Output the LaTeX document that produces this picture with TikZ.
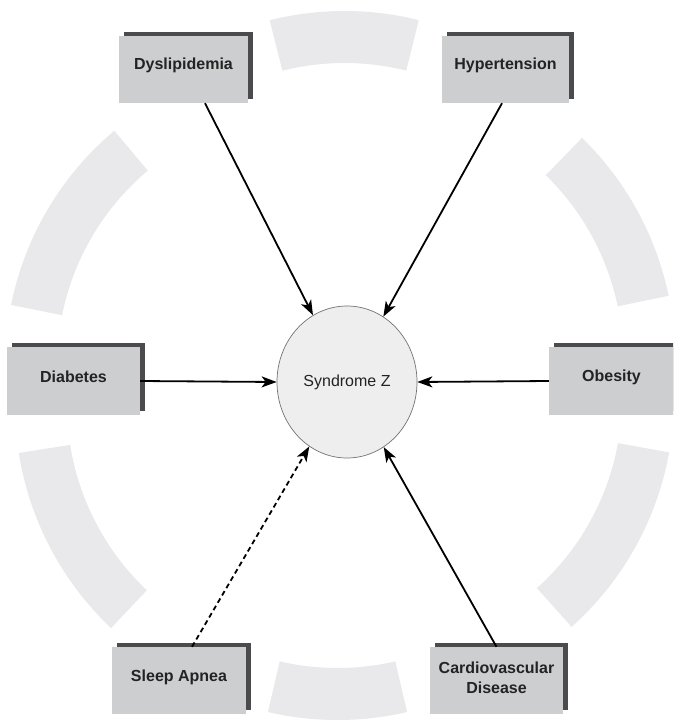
\documentclass[tikz,border=0pt]{standalone}
\usepackage{fontspec}
\setmainfont{Liberation Sans}
\usetikzlibrary{arrows.meta,shadows,shapes.geometric}
\definecolor{segc}{RGB}{233,233,235}
\definecolor{boxc}{RGB}{205,206,208}
\definecolor{shadc}{RGB}{75,75,77}
\definecolor{ellc}{RGB}{238,238,238}
\definecolor{txtc}{RGB}{35,35,35}
\newcommand{\ringseg}[4]{%
  \fill[segc] (#1,#2) ++(#3:307) arc[start angle=#3, end angle=#4, radius=307]
    -- ++(#4:-52) arc[start angle=#4, end angle=#3, radius=255] -- cycle;}
\begin{document}
\begin{tikzpicture}[x=1pt,y=-1pt,
  box/.style={rectangle, fill=boxc, minimum width=133pt, minimum height=67pt, inner sep=0pt,
    drop shadow={shadow xshift=4.5pt, shadow yshift=4pt, fill=shadc, opacity=1}},
  lbl/.style={font=\fontsize{16}{20}\selectfont\bfseries, text=txtc, align=center},
  arr/.style={line width=1.8pt, -{Stealth[length=15pt,width=11pt,inset=4pt]}},
  ell/.style={ellipse, fill=ellc, draw=black!55, line width=0.7pt, minimum width=140pt, minimum height=152pt, inner sep=0pt,
    font=\fontsize{16}{19}\selectfont, text=txtc}
]
\useasboundingbox (0,0) rectangle (673,723);
\clip (0,0) rectangle (673,723);
\fill[white] (0,0) rectangle (673,723);
% ring segments
\ringseg{344.5}{318}{-104.1}{-76.0}
\ringseg{337.5}{413}{76.9}{103.1}
\ringseg{312}{365.6}{-168.6}{-130.1}
\ringseg{368}{358}{-45.8}{-11.7}
\ringseg{322}{405}{133.4}{171.0}
\ringseg{367}{398}{10.2}{48.2}
% boxes
\node[box, minimum width=129pt, label={[lbl,yshift=4pt]center:Dyslipidemia}] (dys) at (183.5,69.5) {};
\node[box, minimum width=127pt, label={[lbl,yshift=4pt]center:Hypertension}] (hyp) at (505.5,69.5) {};
\node[box, minimum height=68pt, label={[lbl,yshift=4pt]center:Diabetes}] (dia) at (73.5,381) {};
\node[box, minimum height=68pt, label={[lbl,yshift=4pt,xshift=-4pt]center:Obesity}] (obe) at (615.5,381) {};
\node[box, minimum width=134pt, label={[lbl,yshift=3pt]center:Sleep Apnea}] (sle) at (179,680.5) {};
\node[box, label={[lbl,yshift=3pt]center:Cardiovascular\\Disease}] (car) at (496.5,680.5) {};
% centre
\node[ell] (syn) at (347,382) {Syndrome Z};
% connectors
\draw[arr] ([xshift=21.5pt]dys.south) -- (syn);
\draw[arr] ([xshift=-3.5pt]hyp.south) -- (syn);
\draw[arr] (dia.east) -- (syn.west);
\draw[arr] (obe.west) -- (syn.east);
\draw[arr, dashed, dash pattern=on 5pt off 3.5pt] ([xshift=13pt]sle.north) -- (syn);
\draw[arr] (car.north) -- (syn);
\end{tikzpicture}
\end{document}
